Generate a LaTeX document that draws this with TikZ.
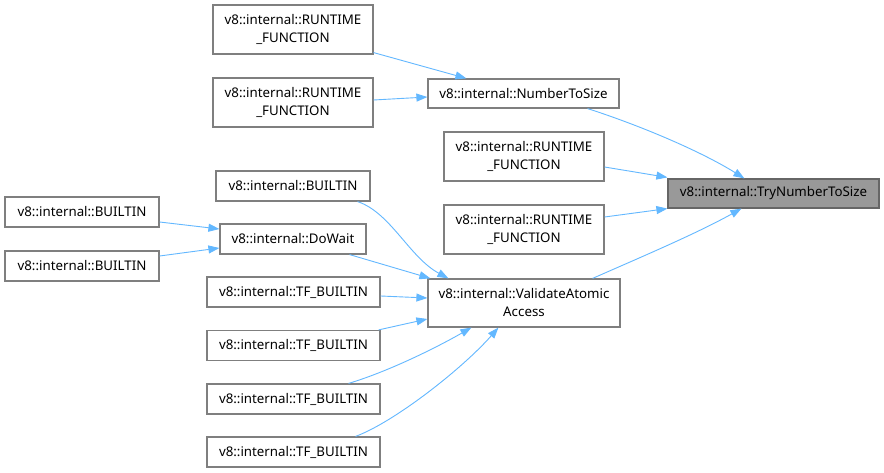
\documentclass[tikz,border=0pt]{standalone}
\usepackage{fontspec}
\setmainfont{Noto Sans}
\usetikzlibrary{arrows.meta,calc}
\definecolor{edgeblue}{HTML}{63B8FF}
\definecolor{nodeborder}{HTML}{7F7F7F}
\definecolor{hlfill}{HTML}{999999}
\definecolor{hlborder}{HTML}{666666}
\begin{document}
\begin{tikzpicture}[x=1pt,y=-1pt,
  box/.style={draw=nodeborder, line width=1.2pt, fill=white, inner sep=0pt, align=center,
    font=\fontsize{13.3}{18}\selectfont, text=black},
  hl/.style={box, draw=hlborder, fill=hlfill},
  conn/.style={draw=edgeblue, line width=0.9pt, -{Triangle[length=11pt,width=8pt]}}]
\fill[white] (0,0) rectangle (884,473);
\useasboundingbox (0,0) rectangle (884,473);

\node[box, minimum width=160pt, minimum height=49pt] (rf1) at (293,29.5) {v8::internal::RUNTIME\\\_FUNCTION};
\node[box, minimum width=160pt, minimum height=49pt] (rf2) at (293,102.5) {v8::internal::RUNTIME\\\_FUNCTION};
\node[box, minimum width=191pt, minimum height=29pt] (nts) at (523.5,93.5) {v8::internal::NumberToSize};
\node[box, minimum width=160pt, minimum height=49pt] (rf3) at (524,156.5) {v8::internal::RUNTIME\\\_FUNCTION};
\node[box, minimum width=160pt, minimum height=49pt] (rf4) at (524,229.5) {v8::internal::RUNTIME\\\_FUNCTION};
\node[hl, minimum width=211pt, minimum height=29pt] (try) at (773.5,193.5) {v8::internal::TryNumberToSize};
\node[box, minimum width=154pt, minimum height=30pt] (bt) at (293,186) {v8::internal::BUILTIN};
\node[box, minimum width=154pt, minimum height=30pt] (bl1) at (82,212) {v8::internal::BUILTIN};
\node[box, minimum width=154pt, minimum height=30pt] (bl2) at (82,266) {v8::internal::BUILTIN};
\node[box, minimum width=146pt, minimum height=30pt] (dw) at (293,239) {v8::internal::DoWait};
\node[box, minimum width=173pt, minimum height=30pt] (tf1) at (293.5,292) {v8::internal::TF\_BUILTIN};
\node[box, minimum width=173pt, minimum height=30pt] (tf2) at (293.5,345.5) {v8::internal::TF\_BUILTIN};
\node[box, minimum width=173pt, minimum height=30pt] (tf3) at (293.5,399) {v8::internal::TF\_BUILTIN};
\node[box, minimum width=173pt, minimum height=30pt] (tf4) at (293.5,452) {v8::internal::TF\_BUILTIN};
\node[box, minimum width=192pt, minimum height=48pt] (vaa) at (524,303) {v8::internal::ValidateAtomic\\Access};

% edges into NumberToSize
\draw[conn] ([yshift=2pt]rf1.south east) -- ([xshift=39pt]nts.north west);
\draw[conn] ([yshift=2.5pt]rf2.east) -- ([yshift=-3.5pt]nts.west);
% edges into TryNumberToSize
\draw[conn] ([xshift=-32pt]nts.south east) .. controls +(50,16) and +(-45,-28) .. ([xshift=77pt]try.north west);
\draw[conn] ([yshift=-10.5pt]rf3.east) -- ([yshift=1pt]try.north west);
\draw[conn] ([yshift=12.5pt]rf4.east) -- (try.south west);
\draw[conn] ([xshift=-28pt]vaa.north east) .. controls +(50,-22) and +(-45,25) .. ([xshift=74pt]try.south west);
% edges into DoWait
\draw[conn] ([yshift=-10pt]bl1.east) -- ([yshift=10pt]dw.west);
\draw[conn] ([yshift=10pt]bl2.east) -- ([yshift=-9pt]dw.west);
% edges into ValidateAtomicAccess
\draw[conn] ([xshift=-13pt]bt.south east) .. controls +(33,11) and +(-39,-21) .. ([xshift=21pt]vaa.north west);
\draw[conn] ([xshift=-17pt]dw.south east) -- ([xshift=3pt]vaa.north west);
\draw[conn] ([yshift=-4pt]tf1.east) -- ([yshift=5pt]vaa.west);
\draw[conn] ([xshift=-2pt]tf2.north east) -- ([yshift=-16pt]vaa.west);
\draw[conn] ([xshift=-32pt]tf3.north east) .. controls +(40,-12) and +(-35,20) .. ([xshift=44pt]vaa.south west);
\draw[conn] ([xshift=-25pt]tf4.north east) .. controls +(40,-15) and +(-35,40) .. ([xshift=71pt]vaa.south west);
\end{tikzpicture}
\end{document}
